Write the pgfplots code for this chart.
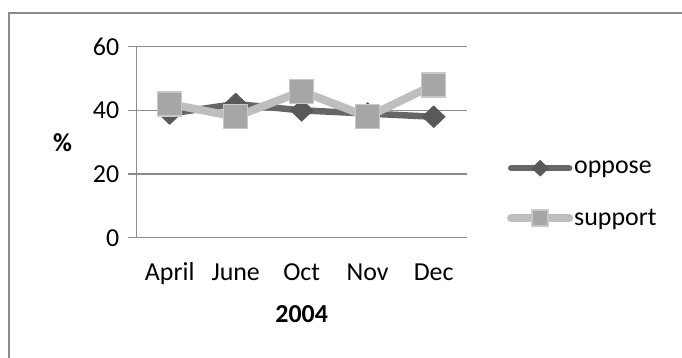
\documentclass[border=0pt]{standalone}
\usepackage{pgfplots}
\pgfplotsset{compat=1.18}
\usepackage{fontspec}
\setmainfont{Carlito}

\definecolor{axisgray}{HTML}{8C8C8C}
\definecolor{opline}{HTML}{666666}
\definecolor{opmark}{HTML}{595959}
\definecolor{suline}{HTML}{BEBEBE}
\definecolor{sumark}{HTML}{A6A6A6}
\definecolor{suedge}{HTML}{C8C8C8}

\newcommand{\lblfont}{\fontsize{26}{30}\selectfont}

\begin{document}
\begin{tikzpicture}
  \useasboundingbox (0,0) rectangle (682bp,358bp);
  \draw[axisgray, line width=2bp] (9bp,-20bp) |- (720bp,345bp);
  \begin{axis}[
    at={(136.7bp,120.3bp)}, anchor=south west,
    scale only axis, width=330bp, height=191bp,
    xmin=0.5, xmax=5.5, ymin=0, ymax=60,
    axis x line=bottom, axis y line=left,
    axis line style={axisgray, line width=1.3bp, -},
    xtick={1,2,3,4,5},
    xticklabels={April,June,Oct,Nov,Dec},
    major x tick style={draw=none},
    extra x ticks={0.5,1.5,2.5,3.5,4.5,5.5},
    extra x tick labels={},
    extra x tick style={tick style={axisgray, line width=1.3bp}, major tick length=9bp, tick align=outside, grid=none},
    ytick={0,20,40,60},
    ymajorgrids,
    grid style={axisgray, line width=1.3bp},
    y tick style={axisgray, line width=1.3bp},
    major tick length=9bp, tick align=outside,
    tick label style={font=\lblfont},
    /pgf/number format/assume math mode=true,
    yticklabel style={xshift=-5bp},
    xticklabel style={yshift=-12bp, text height=18bp, text depth=5bp},
    xlabel={\textbf{2004}}, ylabel={\textbf{\%}},
    label style={font=\lblfont},
    xlabel style={at={(axis description cs:0.5,-0.40)}, anchor=center},
    ylabel style={at={(axis description cs:-0.225,0.5)}, anchor=center, rotate=-90},
    legend style={draw=none, fill=none, at={(1.113,0.228)}, anchor=west,
      font=\lblfont, row sep=30bp, nodes={inner xsep=1bp}},
    legend cell align=left,
    legend image code/.code={
      \draw[#1, line cap=round, mark repeat=2, mark phase=2, mark size=8bp] plot coordinates {(0bp,0bp) (29bp,0bp) (58bp,0bp)};
    },
    clip=false,
  ]
    \addplot[opline, line width=6.5bp, line join=round, mark=diamond*, mark size=11bp,
      mark options={fill=opmark, draw=opmark, line width=0.5bp, xscale=1.4}]
      coordinates {(1,39) (2,42) (3,40) (4,39) (5,38)};
    \addlegendentry{oppose}
    \addplot[suline, line width=8bp, line join=round, mark=square*, mark size=12bp,
      mark options={fill=sumark, draw=suedge, line width=1.5bp}]
      coordinates {(1,42) (2,38) (3,46) (4,38) (5,48)};
    \addlegendentry{support}
  \end{axis}
\end{tikzpicture}
\end{document}
